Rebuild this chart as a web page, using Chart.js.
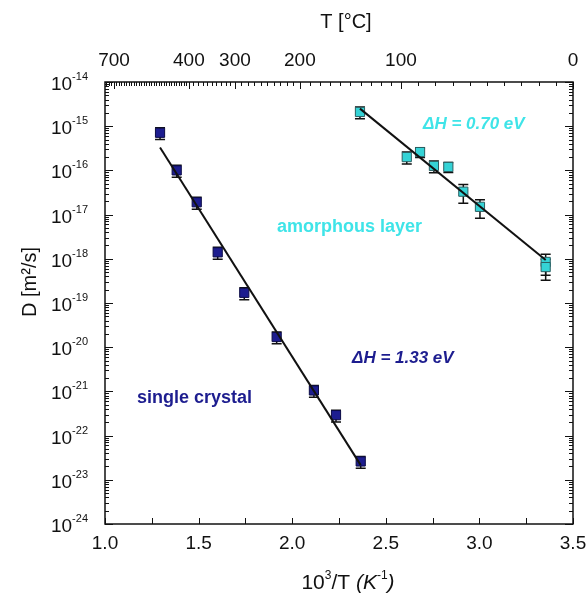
<!DOCTYPE html>
<html>
<head>
<meta charset="utf-8">
<script src="https://cdn.jsdelivr.net/npm/chart.js@4.4.1/dist/chart.umd.min.js"></script>
<style>
html,body{margin:0;padding:0;background:#fff;}
#wrap{width:588px;height:596px;}
</style>
</head>
<body>
<div id="wrap"><canvas id="graficoDifusion" width="588" height="596"></canvas></div>
<script>
// measured points, 10^3/T vs D
const crystalX = [1.294, 1.383, 1.490, 1.602, 1.744, 1.917, 2.116, 2.234, 2.366];
const crystalD = [7.1e-16, 1.0e-16, 1.9e-17, 1.4e-18, 1.7e-19, 1.7e-20, 1.05e-21, 2.9e-22, 2.6e-23];
const crystalErr = [0.3, 0.3, 0.3, 0.3, 0.3, 0.3, 0.3, 0.3, 0.3];

const amorphX = [2.362, 2.612, 2.683, 2.757, 2.834, 2.914, 3.003, 3.354, 3.354];
const amorphD = [2.1e-15, 2.0e-16, 2.6e-16, 1.26e-16, 1.2e-16, 3.3e-17, 1.5e-17, 8.5e-19, 6.5e-19];
const amorphErr = [0.3, 0.3, 0.25, 0.3, 0.25, 0.45, 0.45, 0.5, 0.5];

// fitted lines (end points)
const crystalFitX = [1.294, 2.366];
const crystalFitD = [3.3e-16, 2.15e-23];
const amorphFitX = [2.362, 3.354];
const amorphFitD = [2.5e-15, 9.4e-19];

// axes
const xTicks = [1.0, 1.5, 2.0, 2.5, 3.0, 3.5];
const yDecades = [-24, -23, -22, -21, -20, -19, -18, -17, -16, -15, -14];
const topTemps = [700, 400, 300, 200, 100, 0];
const topPos = [1.048, 1.448, 1.694, 2.041, 2.581, 3.5];

const FONT = '"Liberation Sans", Arial, sans-serif';
const NAVY = "#1d1d8f";
const CYAN = "#3fe4e8";

function pts(xs, ys) {
  return xs.map(function (x, i) { return { x: x, y: ys[i] }; });
}

// draw a row of text pieces (for superscripts)
function richText(ctx, parts, x, y, align) {
  let w = 0;
  parts.forEach(function (p) {
    ctx.font = (p.style || "") + " " + p.size + "px " + FONT;
    p.w = ctx.measureText(p.t).width;
    w += p.w;
  });
  let cx = align === "right" ? x - w : align === "center" ? x - w / 2 : x;
  ctx.textAlign = "left";
  ctx.textBaseline = "alphabetic";
  parts.forEach(function (p) {
    ctx.font = (p.style || "") + " " + p.size + "px " + FONT;
    ctx.fillText(p.t, cx, y + (p.dy || 0));
    cx += p.w;
  });
}

// piecewise position of a temperature on the top axis
function tempToX(t) {
  for (let i = 0; i < topTemps.length - 1; i++) {
    const a = topTemps[i], b = topTemps[i + 1];
    if (t <= a && t >= b) {
      return topPos[i] + (a - t) / (a - b) * (topPos[i + 1] - topPos[i]);
    }
  }
  const a = topTemps[0], b = topTemps[1];
  return topPos[0] + (a - t) / (a - b) * (topPos[1] - topPos[0]);
}

const errorBars = {
  id: "errorBars",
  beforeDatasetsDraw(chart) {
    const ctx = chart.ctx, xs = chart.scales.x, ys = chart.scales.y;
    ctx.save();
    ctx.strokeStyle = "#111";
    ctx.lineWidth = 1.5;
    [[crystalX, crystalD, crystalErr], [amorphX, amorphD, amorphErr]].forEach(function (s) {
      s[0].forEach(function (xv, i) {
        const px = xs.getPixelForValue(xv);
        const top = ys.getPixelForValue(s[1][i] * (1 + s[2][i]));
        const bot = ys.getPixelForValue(s[1][i] * (1 - s[2][i]));
        ctx.beginPath();
        ctx.moveTo(px, top); ctx.lineTo(px, bot);
        ctx.moveTo(px - 5, top); ctx.lineTo(px + 5, top);
        ctx.moveTo(px - 5, bot); ctx.lineTo(px + 5, bot);
        ctx.stroke();
      });
    });
    ctx.restore();
  }
};

const frame = {
  id: "frame",
  afterDraw(chart) {
    const ctx = chart.ctx, a = chart.chartArea;
    const xs = chart.scales.x, ys = chart.scales.y;
    ctx.save();
    ctx.strokeStyle = "#111";
    ctx.fillStyle = "#111";

    // ticks
    ctx.lineWidth = 1;
    ctx.beginPath();
    yDecades.forEach(function (k) {
      for (let m = 1; m <= 9; m++) {
        if (k === -14 && m > 1) break;
        const py = Math.round(ys.getPixelForValue(m * Math.pow(10, k))) + 0.5;
        const len = m === 1 ? 8 : 4;
        ctx.moveTo(a.left, py); ctx.lineTo(a.left + len, py);
        ctx.moveTo(a.right, py); ctx.lineTo(a.right - len, py);
      }
    });
    for (let v = 1.0; v <= 3.5001; v += 0.25) {
      const px = Math.round(xs.getPixelForValue(v)) + 0.5;
      ctx.moveTo(px, a.bottom); ctx.lineTo(px, a.bottom - 6);
    }
    for (let t = 800; t >= 0; t -= 10) {
      const xv = tempToX(t);
      if (xv < 1.0 || xv > 3.5) continue;
      const px = Math.round(xs.getPixelForValue(xv)) + 0.5;
      const len = topTemps.indexOf(t) >= 0 ? 7 : 4;
      ctx.moveTo(px, a.top); ctx.lineTo(px, a.top + len);
    }
    ctx.stroke();

    // box
    ctx.lineWidth = 1.5;
    ctx.strokeRect(a.left, a.top, a.right - a.left, a.bottom - a.top);

    // y labels
    yDecades.forEach(function (k) {
      const py = ys.getPixelForValue(Math.pow(10, k));
      richText(ctx, [
        { t: "10", size: 19, dy: 8 },
        { t: String(k), size: 11, dy: -2 }
      ], 88, py, "right");
    });

    // x labels
    ctx.font = "19px " + FONT;
    ctx.textAlign = "center";
    ctx.textBaseline = "middle";
    xTicks.forEach(function (v) {
      ctx.fillText(v.toFixed(1), xs.getPixelForValue(v), 544);
    });

    // top labels
    topTemps.forEach(function (t, i) {
      ctx.fillText(String(t), xs.getPixelForValue(topPos[i]), 61);
    });

    // titles
    ctx.font = "20px " + FONT;
    ctx.fillText("T [\u00b0C]", 346, 22);
    richText(ctx, [
      { t: "10", size: 21 },
      { t: "3", size: 12, dy: -10 },
      { t: "/T ", size: 21 },
      { t: "(K", size: 21, style: "italic" },
      { t: "-1", size: 12, dy: -10 },
      { t: ")", size: 21, style: "italic" }
    ], 348, 589, "center");

    ctx.save();
    ctx.translate(30, 282);
    ctx.rotate(-Math.PI / 2);
    ctx.font = "20px " + FONT;
    ctx.textAlign = "center";
    ctx.textBaseline = "middle";
    ctx.fillText("D [m\u00b2/s]", 0, 0);
    ctx.restore();

    // annotations
    ctx.textAlign = "left";
    ctx.textBaseline = "middle";
    ctx.fillStyle = CYAN;
    ctx.font = "bold italic 17px " + FONT;
    ctx.fillText("\u0394H = 0.70 eV", 423, 124);
    ctx.font = "bold 18px " + FONT;
    ctx.fillText("amorphous layer", 277, 227);
    ctx.fillStyle = NAVY;
    ctx.font = "bold italic 17px " + FONT;
    ctx.fillText("\u0394H = 1.33 eV", 352, 358);
    ctx.font = "bold 18px " + FONT;
    ctx.fillText("single crystal", 137, 398);
    ctx.restore();
  }
};

document.addEventListener("DOMContentLoaded", function () {

new Chart(document.getElementById("graficoDifusion"), {
  type: "scatter",
  data: {
    datasets: [
      { data: pts(crystalFitX, crystalFitD), showLine: true, borderColor: "#111", borderWidth: 2, pointRadius: 0 },
      { data: pts(amorphFitX, amorphFitD), showLine: true, borderColor: "#111", borderWidth: 2, pointRadius: 0 },
      { data: pts(crystalX, crystalD), pointStyle: "rect", pointRadius: 6.5, backgroundColor: NAVY, borderColor: "#0b0b45", borderWidth: 1 },
      { data: pts(amorphX, amorphD), pointStyle: "rect", pointRadius: 6.5, backgroundColor: "#35d3d6", borderColor: "#2b5f62", borderWidth: 1 }
    ]
  },
  options: {
    responsive: false,
    animation: false,
    devicePixelRatio: 1,
    layout: { padding: { left: 105, right: 15, top: 82, bottom: 72 } },
    plugins: { legend: { display: false }, tooltip: { enabled: false } },
    scales: {
      x: { type: "linear", min: 1, max: 3.5, display: false },
      y: { type: "logarithmic", min: 1e-24, max: 1e-14, display: false }
    }
  },
  plugins: [errorBars, frame]
});

});
</script>
</body>
</html>
